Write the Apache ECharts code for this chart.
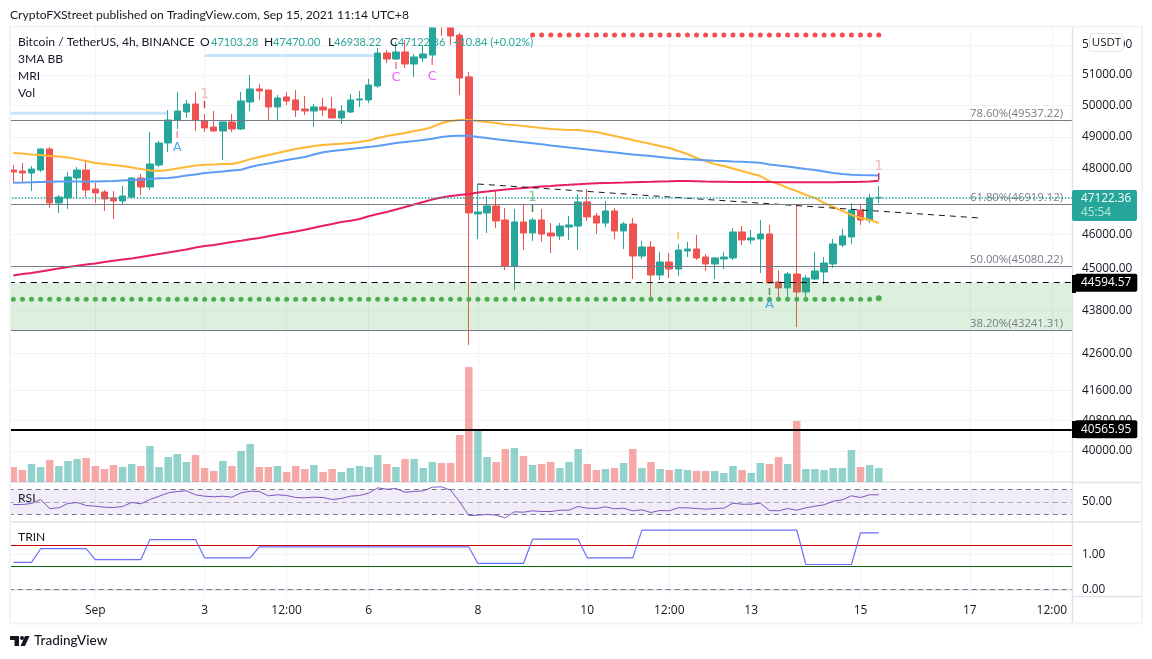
<!DOCTYPE html>
<html><head><meta charset="utf-8"><style>html,body{margin:0;padding:0;background:#fff}#c{width:1152px;height:659px}</style>
<script src="https://cdn.jsdelivr.net/npm/echarts@6/dist/echarts.min.js"></script></head>
<body><div id="c"></div><script>
const tickIdx=[9,21,30,39,51,63,72,81,93,105,114];
const tickText=['Sep','3','12:00','6','8','10','12:00','13','15','17','12:00'];
const opens=[47961,47930,47869,47961,48617,46952,47103,47715,47961,47377,
47285,47103,47012,47133,47715,47438,48116,48806,49537,49793,
50052,49505,49314,49186,49473,49250,50117,50540,50508,49955,
50280,50182,49890,49825,49955,49890,49601,49793,50182,50182,
50637,51728,51527,51762,51361,51560,51662,53115,52704,52330,
50935,46620,46650,46861,46438,45079,46378,46050,46438,46050,
45961,46228,46258,46982,46560,46348,46710,46109,46318,45370,
45635,44817,45195,44991,45517,45576,45341,45137,45282,45312,
46080,45842,45872,46020,44615,44443,44846,44328,44701,44904,
45137,45694,45931,46740,46438,47103];
const closes=[47899,47869,47992,48617,46952,47133,47745,47961,47346,47255,
47072,47012,47163,47715,47438,48147,48806,49537,49825,50052,
49537,49282,49186,49473,49250,50150,50540,50475,49955,50247,
50150,49857,49825,49955,49857,49601,49825,50182,50215,50670,
51728,51527,51762,51361,51595,51695,52840,52776,52300,50900,
46650,46680,46861,46408,45079,46378,46050,46438,46020,45961,
46258,46288,46982,46530,46348,46710,46109,46318,45370,45635,
44817,45195,44991,45546,45576,45312,45137,45312,45341,46080,
45842,45902,46020,44586,44443,44846,44328,44730,44933,45166,
45724,45961,46740,46438,47103,47122];
const lows=[47561,47561,47316,47899,46801,46650,46770,47103,47133,46952,
46710,46468,46921,47072,47194,47346,48054,48522,49250,49601,
49186,49154,49186,48271,49154,49218,49825,50182,49537,49537,
50020,49633,49697,49314,49665,49601,49410,49761,49955,50085,
50573,51394,51493,51230,50935,51427,51527,52298,51996,50345,
42834,45872,46050,46199,44962,44385,45546,45812,45783,45458,
45842,45842,45546,46408,46020,46228,45872,45576,44701,45282,
44100,44672,44730,44788,45341,45253,44933,44701,44991,45253,
45694,45724,44875,44558,44128,44128,43336,44100,44672,44558,
45020,45635,45724,46288,46348,46938];
const highs=[48116,48178,48085,48640,48680,47194,47899,48054,48240,47561,
47346,47316,47469,47745,47838,49154,48868,49857,50443,50182,
50443,49729,49825,49473,49729,50443,51000,50700,50508,50345,
50443,50508,50313,50052,50247,50280,50020,50378,50475,50870,
51896,51829,52096,52164,51695,51996,53184,53356,53012,52400,
51097,47530,47163,47316,46801,46770,46891,46500,46770,46348,
46348,46560,47224,47377,46650,47012,46801,46378,46500,45812,
45812,45488,45458,45724,45783,45991,45429,45341,45488,46199,
46258,46139,46438,46288,44962,44904,46891,44817,45488,45341,
45872,46169,46952,46891,47224,47470];
const volumes=[15,12,18,15,22,16,21,23,24,16,
13,17,15,18,16,36,15,25,28,20,
27,14,11,21,16,31,38,15,15,16,
10,16,13,17,10,13,10,14,16,15,
27,18,15,23,23,14,20,19,19,47,
115,51,25,20,33,34,26,17,18,20,
14,20,33,18,12,13,14,19,33,14,
20,13,12,13,12,11,11,11,9,16,
12,9,19,18,25,18,61,13,13,12,
14,14,32,15,17,14];
const maYellow=[48490,48475,48445,48430,48400,48380,48350,48300,48240,48180,
48150,48115,48085,48040,47990,47945,47930,47960,48010,48055,
48100,48125,48130,48147,48150,48210,48300,48365,48430,48490,
48555,48615,48665,48710,48745,48770,48785,48805,48835,48885,
48965,49025,49075,49120,49185,49235,49315,49440,49505,49537,
49537,49505,49475,49440,49395,49380,49345,49315,49280,49250,
49235,49220,49220,49185,49155,49090,49025,48965,48900,48835,
48775,48710,48650,48555,48460,48335,48240,48145,48085,48010,
47930,47855,47775,47620,47530,47410,47315,47195,47105,46950,
46830,46710,46590,46500,46440,46350];
const maBlue=[47570,47575,47582,47590,47598,47605,47607,47607,47607,47607,
47615,47622,47638,47653,47668,47684,47705,47715,47745,47790,
47822,47869,47893,47915,47945,47970,48054,48116,48162,48218,
48271,48318,48365,48444,48516,48554,48585,48617,48648,48680,
48711,48758,48806,48837,48868,48900,48942,48995,49027,49037,
49037,48995,48964,48922,48890,48858,48827,48796,48765,48727,
48696,48664,48633,48601,48570,48538,48507,48475,48444,48419,
48397,48365,48334,48312,48293,48277,48265,48249,48240,48224,
48215,48203,48184,48131,48100,48070,48032,47992,47961,47915,
47869,47838,47816,47807,47801,47795];
const maPink=[44802,44846,44875,44918,44962,45006,45050,45088,45122,45152,
45195,45233,45268,45297,45341,45385,45429,45473,45517,45561,
45620,45665,45694,45738,45783,45821,45863,45902,45952,46005,
46050,46094,46148,46208,46267,46318,46378,46417,46468,46550,
46620,46680,46755,46831,46906,46982,47057,47118,47163,47194,
47224,47270,47300,47331,47361,47383,47407,47429,47454,47469,
47491,47506,47522,47537,47552,47561,47567,47576,47586,47592,
47598,47607,47613,47622,47622,47616,47607,47601,47598,47592,
47592,47592,47592,47592,47586,47583,47583,47583,47583,47583,
47586,47589,47592,47598,47607,47631];
const rsi=[46,46,47.6,54,39.6,40.7,47.6,49.2,44.4,43.3,
41.7,41.2,42.8,49.2,47.1,54,59.3,64.7,66.8,67.9,
61.5,59.3,58.3,59.3,57.7,64.7,67.3,66.8,59.9,61.5,
60.4,57.2,56.7,57.7,57.2,54,55.6,59.3,60.4,64.1,
72.7,70.5,71.6,65.7,66.8,67.9,73.7,74.3,68.9,50.3,
28.4,28.9,30,28.9,24.7,34.3,33.7,35.9,34.8,34.8,
36.9,36.9,42.8,40.1,39.6,42.3,39.1,40.1,35.9,37.5,
33.2,36.4,35.9,40.7,40.7,39.6,38.5,39.6,40.1,48.1,
46.5,46.5,48.1,36.4,35.9,39.6,36.9,40.7,43.3,45.5,
51.3,53.5,59.9,57.2,61.5,61.5];
const trin=[0.77,0.77,0.77,1.16,1.16,1.16,1.16,1.16,1.16,0.85,
0.85,0.85,0.85,0.85,0.85,1.42,1.42,1.42,1.42,1.42,
1.42,0.90,0.90,0.90,0.90,0.90,0.90,1.21,1.21,1.21,
1.21,1.21,1.21,1.21,1.21,1.21,1.21,1.21,1.21,1.21,
1.21,1.21,1.21,1.21,1.21,1.21,1.21,1.21,1.21,1.21,
1.21,0.74,0.74,0.74,0.74,0.74,0.74,1.43,1.43,1.43,
1.43,1.43,1.43,0.90,0.90,0.90,0.90,0.90,0.90,1.69,
1.69,1.69,1.69,1.69,1.69,1.69,1.69,1.69,1.69,1.69,
1.69,1.69,1.69,1.69,1.69,1.69,1.69,0.71,0.71,0.71,
0.71,0.71,0.71,1.61,1.61,1.61];
const greenDots=[44120,44120,44120,44120,44120,44120,44120,44120,44120,44120,
44120,44120,44120,44120,44120,44120,44120,44120,44120,44120,
44120,44120,44120,44120,44120,44120,44120,44120,44120,44120,
44120,44120,44120,44120,44120,44120,44120,44120,44120,44120,
44120,44120,44120,44120,44120,44120,44120,44120,44120,44120,
44120,44120,44120,44120,44120,44120,44120,44120,44120,44120,
44120,44120,44120,44120,44120,44120,44120,44120,44120,44120,
44120,44120,44120,44120,44120,44120,44120,44120,44120,44120,
44120,44120,44120,44120,44120,44120,44120,44120,44120,44120,
44120,44120,44120,44120,44120,44150];
const redDotStart=57;
const redDots=[52330,52330,52330,52330,52330,52330,52330,52330,52330,52330,
52330,52330,52330,52330,52330,52330,52330,52330,52330,52330,
52330,52330,52330,52330,52330,52330,52330,52330,52330,52330,
52330,52330,52330,52330,52330,52330,52330,52330,52330];
const priceTicks=[52000,51000,50000,49000,48000,46000,45000,43800,42600,41600,40800,40000];
const fibLevels=[49537.22,46919.12,45080.22,43241.31];
const fibNames=['78.60%','61.80%','50.00%','38.20%'];
const lastPrice=47122.36, countdown='45:54', zoneTop=44594.57, zoneBottom=43241.31, supportLine=40565.95;
const trendIdx=[51,106], trendPrice=[47530,46500];
const bandUpper={idx:[21,40],price:51645}, bandLower={idx:[-1,17],price:49750};
const sigIdx=[21,21,18,18,42,42,46,46,57,57,73,95,95,83,83];
const sigPrice=[50378,49987,49037,48648,51263,50900,51394,50935,47133,46740,45931,48085,47705,44300,43957];
const sigText=['1','I','I','A','I','C','I','C','1','I','I','1','I','I','A'];
const sigColor=['#f6a5a5','#b71c1c','#ef7a78','#2196f3','#f0605c','#e040fb','#f0605c','#e040fb','#66bb6a','#1b5e20','#f9a825','#f6a5a5','#b71c1c','#2e7d32','#2196f3'];

const FONT='Lato, "Open Sans", sans-serif';
const NUMF='"Open Sans", sans-serif';
const TXT='#131722', UP='#26a69a', DOWN='#ef5350', GRID='#f0f3fa', DIV='#e0e3eb', FIB='#787b86';
const N=117;
const cats=[]; for(let i=0;i<N;i++){const k=tickIdx.indexOf(i);cats.push(k>=0?tickText[k]:'');}
const L=8.75,R=77.4,tops=[27,483,522],hts=[455,39,74.5];
const onTick=i=>tickIdx.indexOf(i)>=0;
function xAx(g,showLabel){return {type:'category',gridIndex:g,data:cats,boundaryGap:true,
 axisLine:{show:true,lineStyle:{color:DIV,width:1.5}},axisTick:{show:false},
 axisLabel:{show:showLabel,interval:(i)=>onTick(i),color:TXT,fontFamily:NUMF,fontSize:12,margin:8,hideOverlap:false},
 splitLine:{show:true,interval:(i)=>onTick(i),alignWithLabel:true,lineStyle:{color:GRID,width:1}}};}
const price=i=>[opens[i],closes[i],lows[i],highs[i]];
const lbl=(text,x,y,o={})=>({type:'text',z:50,silent:true,style:Object.assign({text,x,y,fill:TXT,font:'12.1px '+FONT,textVerticalAlign:'middle'},o)});
const val=(text,x,y)=>lbl(text,x,y,{fill:UP,font:'11px '+FONT});
const rec=(x,y,w,h,fill,o={})=>({type:'rect',z:o.z||49,silent:true,shape:Object.assign({x,y,width:w,height:h},o.shape||{}),style:Object.assign({fill},o.style||{})});
const divider=y=>({type:'line',z:48,silent:true,shape:{x1:1072,y1:y,x2:1141,y2:y},style:{stroke:DIV,lineWidth:1.5}});
const option={
 animation:false,backgroundColor:'#fff',textStyle:{fontFamily:NUMF},
 grid:tops.map((t,i)=>({left:L,right:R,top:t,height:hts[i],containLabel:false})),
 xAxis:[xAx(0,false),xAx(1,false),xAx(2,true)],
 yAxis:[
  {type:'log',logBase:10,gridIndex:0,position:'right',min:39207,max:52604,axisLine:{show:false},axisTick:{show:false},axisLabel:{show:false},splitLine:{show:false}},
  {type:'value',gridIndex:0,min:0,max:455,show:false,splitLine:{show:false}},
  {type:'value',gridIndex:1,position:'right',min:18,max:80.4,axisLine:{show:false},axisTick:{show:false,customValues:[]},splitLine:{show:false},
   axisLabel:{customValues:[50],formatter:v=>v.toFixed(2),color:TXT,fontFamily:NUMF,fontSize:11.8,margin:7.4}},
  {type:'value',gridIndex:2,position:'right',min:-0.2,max:1.92,axisLine:{show:false},axisTick:{show:false,customValues:[0,1]},
   splitLine:{show:true,lineStyle:{color:GRID}},
   axisLabel:{customValues:[0,1],formatter:v=>v.toFixed(2),color:TXT,fontFamily:NUMF,fontSize:11.8,margin:7.4}}
 ],
 series:[
  {name:'grid',type:'line',xAxisIndex:0,yAxisIndex:0,z:0,data:[],silent:true,
   markLine:{z:0,silent:true,symbol:'none',animation:false,precision:2,lineStyle:{color:GRID,width:1,type:'solid'},
    label:{show:true,position:'end',distance:7.4,padding:[3,0,0,0],color:TXT,fontFamily:NUMF,fontSize:11.8,formatter:p=>Number(p.value).toFixed(2)},
    data:priceTicks.map(v=>({yAxis:v}))}},
  {name:'Vol',type:'bar',xAxisIndex:0,yAxisIndex:1,z:1,barWidth:7.5,silent:true,
   data:volumes.map((v,i)=>({value:v,itemStyle:{color:closes[i]>=opens[i]?'rgba(38,166,154,.5)':'rgba(239,83,80,.5)'}}))},
  {name:'BTCUSDT',type:'candlestick',xAxisIndex:0,yAxisIndex:0,z:2,barWidth:7,clip:true,silent:true,
   itemStyle:{color:UP,color0:DOWN,borderColor:UP,borderColor0:DOWN,borderWidth:1},
   data:opens.map((_,i)=>price(i))},
  {name:'MA yellow',type:'line',xAxisIndex:0,yAxisIndex:0,z:3,symbol:'none',silent:true,lineStyle:{color:'#ffb733',width:2},data:maYellow},
  {name:'MA blue',type:'line',xAxisIndex:0,yAxisIndex:0,z:3,symbol:'none',silent:true,lineStyle:{color:'#5d9cf5',width:2},data:maBlue},
  {name:'MA pink',type:'line',xAxisIndex:0,yAxisIndex:0,z:3,symbol:'none',silent:true,lineStyle:{color:'#e91e63',width:2},data:maPink},
  {name:'band upper',type:'line',xAxisIndex:0,yAxisIndex:0,z:1,symbol:'none',silent:true,lineStyle:{color:'#c8e4fb',width:3},data:bandUpper.idx.map(i=>[i,bandUpper.price])},
  {name:'band lower',type:'line',xAxisIndex:0,yAxisIndex:0,z:1,symbol:'none',silent:true,lineStyle:{color:'#c8e4fb',width:3},data:bandLower.idx.map(i=>[i,bandLower.price])},
  {name:'trend',type:'line',xAxisIndex:0,yAxisIndex:0,z:6,symbol:'none',silent:true,lineStyle:{color:'#131722',width:1,type:[6,5]},data:trendIdx.map((x,i)=>[x,trendPrice[i]])},
  {name:'green dots',type:'scatter',xAxisIndex:0,yAxisIndex:0,z:6,silent:true,symbolSize:(v,p)=>p.dataIndex===95?6:5,itemStyle:{color:'#4caf50',opacity:1},data:greenDots.map((v,i)=>[i,v])},
  {name:'red dots',type:'scatter',xAxisIndex:0,yAxisIndex:0,z:6,silent:true,symbolSize:5,itemStyle:{color:'#f44d4d',opacity:1},data:redDots.map((v,i)=>[i+redDotStart,v])},
  {name:'signals',type:'scatter',xAxisIndex:0,yAxisIndex:0,z:7,silent:true,symbolSize:1,itemStyle:{color:'rgba(0,0,0,0)'},
   data:sigIdx.map((x,i)=>({value:[x,sigPrice[i]],label:{show:true,position:'inside',formatter:sigText[i],color:sigColor[i],fontFamily:'"DejaVu Sans"',
    fontSize:sigText[i]==='I'?8:(sigText[i]==='1'?14:13),fontWeight:sigText[i]==='I'?'bold':'normal'}}))},
  {name:'levels',type:'line',xAxisIndex:0,yAxisIndex:0,z:5,data:[],silent:true,
   markArea:{z:4,silent:true,itemStyle:{color:'rgba(76,175,80,.19)'},data:[[{yAxis:zoneTop},{yAxis:zoneBottom}]]},
   markLine:{z:8,silent:true,symbol:'none',animation:false,precision:2,
    data:[
     ...fibLevels.map((v,i)=>({yAxis:v,lineStyle:{color:FIB,width:1,type:'solid'},
       label:{show:true,position:'insideEndTop',distance:[11.6,1],color:FIB,fontFamily:NUMF,fontSize:11.3,formatter:fibNames[i]+'('+v.toFixed(2)+')'}})),
     {yAxis:lastPrice,lineStyle:{color:UP,width:1.5,type:[1.5,1.7]},label:{show:false}},
     {yAxis:zoneTop,lineStyle:{color:'#000',width:1,type:[6,5]},label:{show:true,position:'end',distance:0,formatter:zoneTop.toFixed(2),color:'#fff',fontFamily:NUMF,fontSize:11.8,backgroundColor:'#000',borderRadius:2,padding:[3,6,3,6.4]}},
     {yAxis:supportLine,lineStyle:{color:'#000',width:2,type:'solid'},label:{show:true,position:'end',distance:0,formatter:supportLine.toFixed(2),color:'#fff',fontFamily:NUMF,fontSize:11.8,backgroundColor:'#000',borderRadius:2,padding:[3,6,3,6.4]}}
    ]}},
  {name:'RSI',type:'line',xAxisIndex:1,yAxisIndex:2,z:3,symbol:'none',silent:true,lineStyle:{color:'#7e57c2',width:1},data:rsi,
   markArea:{z:1,silent:true,itemStyle:{color:'rgba(126,87,194,.11)'},data:[[{yAxis:70},{yAxis:30}]]},
   markLine:{z:2,silent:true,symbol:'none',animation:false,label:{show:false},lineStyle:{color:FIB,width:1,type:[5,4]},
    data:[{yAxis:70},{yAxis:50,lineStyle:{color:'#a9abb3'}},{yAxis:30}]}},
  {name:'TRIN',type:'line',xAxisIndex:2,yAxisIndex:3,z:3,symbol:'none',silent:true,lineStyle:{color:'#6e6efb',width:1.2},data:trin,
   markLine:{z:2,silent:true,symbol:'none',animation:false,label:{show:false},
    data:[{yAxis:1.25,lineStyle:{color:'#cc0000',width:1,type:'solid'}},{yAxis:0.67,lineStyle:{color:'#0b6b0b',width:1,type:'solid'}},{yAxis:0,lineStyle:{color:FIB,width:1,type:[5,4]}}]}}
 ],
 graphic:{elements:[
  rec(0,0,10,659,'#fff'),rec(0,0,1152,26,'#fff'),
  rec(1073,27,2.6,596,'#fff',{z:47}),
  rec(1072,275,4,18,'#000',{z:48}),rec(1072,421,4,17,'#000',{z:48}),
  {type:'rect',z:49,silent:true,shape:{x:10,y:26.5,width:1132,height:597},style:{fill:'none',stroke:GRID,lineWidth:2}},
  {type:'line',z:47.5,silent:true,shape:{x1:1072.5,y1:27,x2:1072.5,y2:623},style:{stroke:DIV,lineWidth:1.5}},
  divider(482.6),divider(522),divider(596.5),
  lbl('CryptoFXStreet published on TradingView.com, Sep 15, 2021 11:14 UTC+8',10,15),
  lbl('Bitcoin / TetherUS, 4h, BINANCE',18,42),lbl('3MA BB',18,59),lbl('MRI',18,76),lbl('Vol',18,93),
  lbl('O',200,42),val('47103.28',211,42),lbl('H',264,42),val('47470.00',273,42),
  lbl('L',328,42),val('46938.22',334,42),lbl('C',390,42),val('47122.36',398,42),
  val('+10.84 (+0.02%)',453,42),
  lbl('RSI',18,498),lbl('TRIN',18,537),
  {type:'rect',z:50,silent:true,shape:{x:1089.5,y:33.5,width:34,height:18,r:4},style:{fill:'#fff',stroke:DIV,lineWidth:1}},
  lbl('USDT',1106.5,42.5,{textAlign:'center',font:'11.5px '+NUMF}),
  {type:'rect',z:49,silent:true,shape:{x:1072,y:190,width:65,height:31,r:2},style:{fill:UP}},
  lbl(lastPrice.toFixed(2),1081,199,{fill:'#fff',font:'11.8px '+NUMF}),
  lbl(countdown,1081,213,{fill:'#b9e6e1',font:'11.8px '+NUMF}),
  rec(10,636,9,4,'#131722'),rec(14.5,636,4.5,10,'#131722'),
  {type:'circle',z:49,silent:true,shape:{cx:22,cy:638,r:2},style:{fill:'#131722'}},
  {type:'polygon',z:49,silent:true,shape:{points:[[25,636],[29.5,636],[25,646],[20.5,646]]},style:{fill:'#131722'}},
  lbl('TradingView',34,641,{font:'500 13.5px '+FONT})
 ]}
};
echarts.init(document.getElementById('c'),null,{renderer:'canvas'}).setOption(option);
</script></body></html>
